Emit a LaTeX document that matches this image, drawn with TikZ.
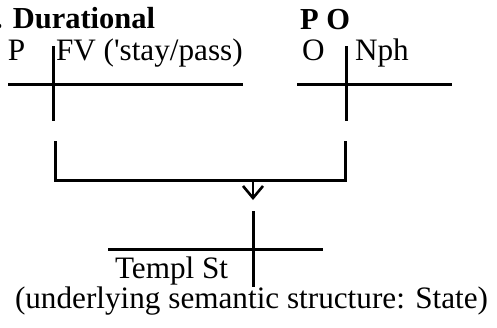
\documentclass[tikz,border=0pt]{standalone}
\usepackage{fontspec}
\setmainfont{Liberation Serif}
\usetikzlibrary{arrows.meta}
\begin{document}
\begin{tikzpicture}[x=1pt,y=-1pt,
  txt/.style={anchor=base west,inner sep=0pt,outer sep=0pt,font=\fontsize{31.2}{33}\selectfont},
  hdr/.style={txt,font=\fontsize{30.5}{32}\selectfont\bfseries},
  rule/.style={line width=3pt},
  arr/.style={line width=2.6pt,-{Straight Barb[length=12pt,width=20pt,line width=2.6pt]}}]
\useasboundingbox (0,0) rectangle (497,327);
% headings
\node[hdr] (dur) at (-5,28) {. Durational};
\node[hdr] (po) at (300,29) {P O};
% left template
\node[txt] (p) at (8,60) {P};
\node[txt] (fv) at (56,60) {FV (\textquotesingle stay/pass)};
\coordinate (l1) at (8,84);
\coordinate (r1) at (243,84);
\coordinate (t1) at (53,46);
\coordinate (b1) at (53,121);
\draw[rule] (l1) -- (r1);
\draw[rule] (t1) -- (b1);
% right template
\node[txt] (o) at (302,60) {O};
\node[txt] (nph) at (355,60) {Nph};
\coordinate (l2) at (297,84);
\coordinate (r2) at (452,84);
\coordinate (t2) at (346,46);
\coordinate (b2) at (346,121);
\draw[rule] (l2) -- (r2);
\draw[rule] (t2) -- (b2);
% bracket
\coordinate (bl) at (55,141);
\coordinate (br) at (345,141);
\coordinate (bm) at (253,180);
\coordinate (tip) at (253,200);
\draw[rule] (bl) |- (br |- bm) -- (br);
\draw[arr] (bm) -- (tip);
% bottom template
\coordinate (l3) at (108,249);
\coordinate (r3) at (323,249);
\coordinate (t3) at (253,211);
\coordinate (b3) at (253,287);
\draw[rule] (l3) -- (r3);
\draw[rule] (t3) -- (b3);
\node[txt] (tmpl) at (115,278) {Templ St};
\node[txt] (und) at (15,308) {(underlying semantic structure: State)};
\end{tikzpicture}
\end{document}
